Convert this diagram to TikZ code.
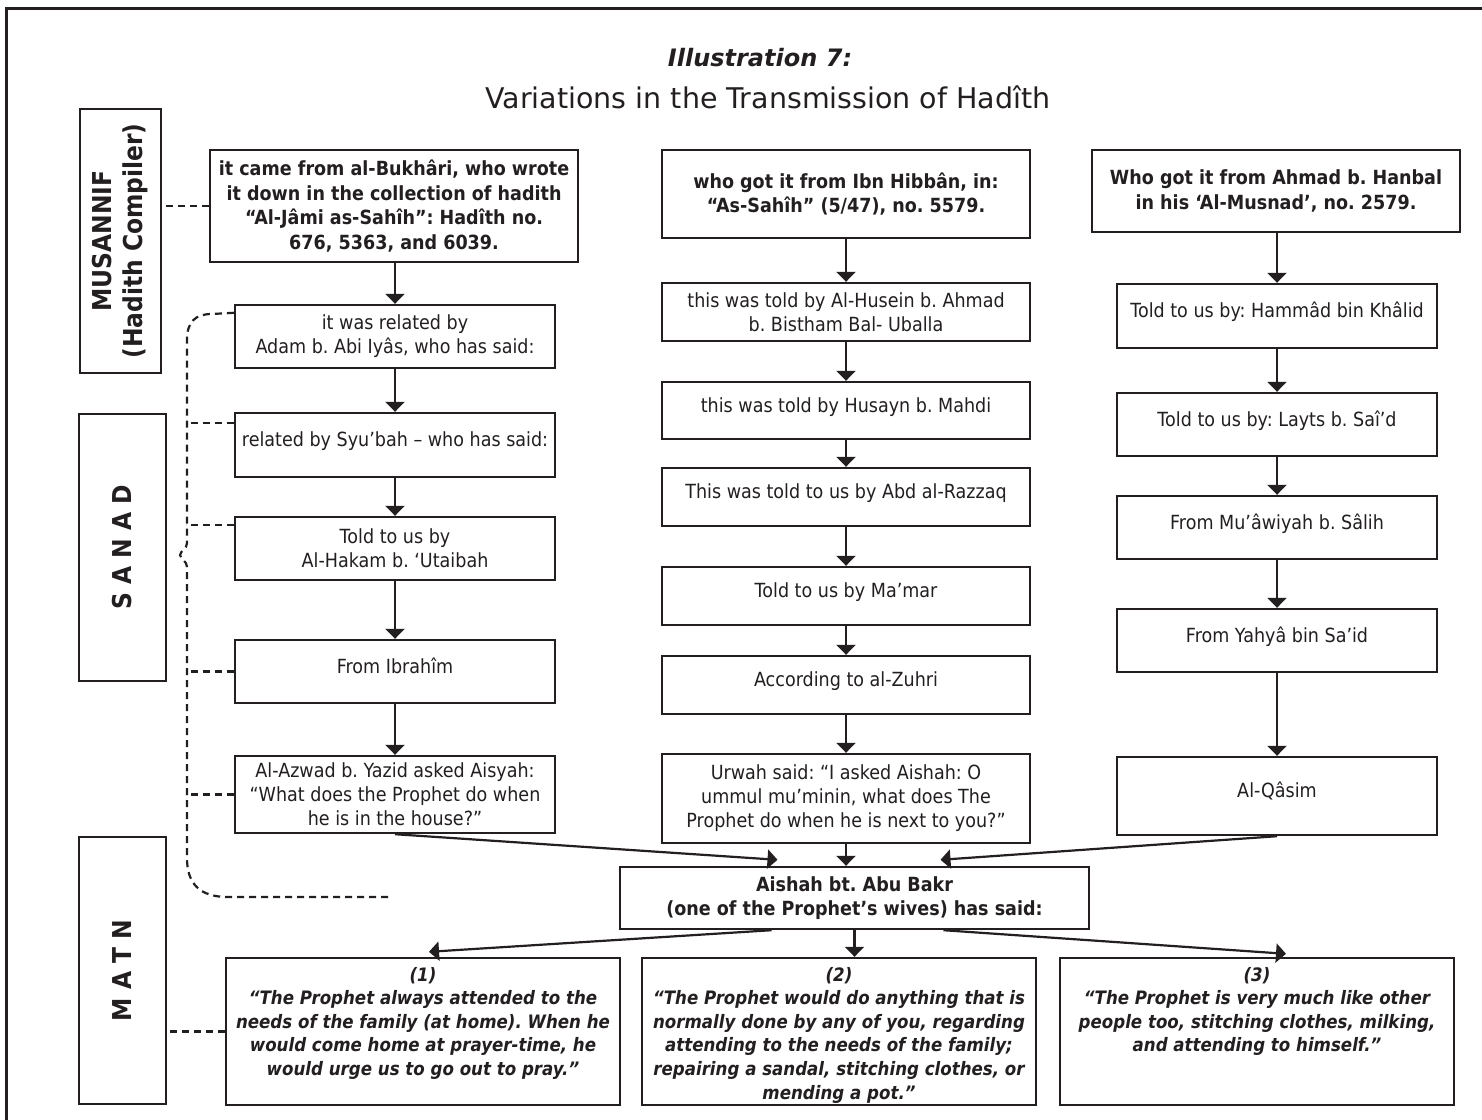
\documentclass[tikz,border=0pt]{standalone}
\usepackage{fontspec}
\setmainfont{DejaVu Sans}[FakeStretch=0.9]
\newfontfamily\titlefont{DejaVu Sans}
\usetikzlibrary{arrows.meta,calc}
\definecolor{ink}{HTML}{231F20}
\frenchspacing

% box with corners (x1,y1)-(x2,y2), picture coordinates grow downwards
\newcommand\bx[7]{%
  \node[box,#6,minimum width={#4-#2},minimum height={#5-#3}]
       (#1) at ({(#2+#4)/2},{(#3+#5)/2}) {#7};}

\tikzset{
  box/.style={draw=ink,line width=2.4pt,fill=white,align=center,inner sep=0pt,
              text=ink,font=\fontsize{19.5}{24}\selectfont},
  oneline/.style={text height=15pt,text depth=12pt},
  bold/.style={font=\fontsize{19.5}{24.5}\selectfont\bfseries},
  quote/.style={font=\fontsize{18.5}{23.6}\selectfont\bfseries\itshape},
  sidelbl/.style={font=\fontsize{26}{31}\selectfont\bfseries},
  arr/.style={draw=ink,line width=2.2pt,-{Triangle[width=19pt,length=10pt]}},
  dsh/.style={draw=ink,line width=2.2pt,dash pattern=on 7pt off 5pt},
}

\begin{document}
\begin{tikzpicture}[x=1pt,y=-1pt]
\useasboundingbox (0,0) rectangle (1482,1119);
% outer frame
\draw[ink,line width=3pt] (1500,8) -- (6,8) -- (6,1140);

% titles
\node[text=ink,font=\titlefont\fontsize{24}{27}\selectfont\bfseries\itshape] (ttl1) at (760,58) {Illustration 7:};
\node[text=ink,font=\titlefont\fontsize{28.5}{32}\selectfont] (ttl2) at (768,97) {Variations in the Transmission of Hadîth};

% side labels
\bx{mus}{80}{109}{161}{373}{sidelbl}{\rotatebox{90}{\begin{tabular}{@{}c@{}}MUSANNIF\\(Hadith Compiler)\end{tabular}}}
\bx{san}{79}{414}{166}{681}{sidelbl}{\rotatebox{90}{S A N A D}}
\bx{mat}{79}{837}{166}{1104}{sidelbl}{\rotatebox{90}{M A T N}}

% left chain
\bx{buk}{210}{150}{578}{262}{bold}{it came from al-Bukhâri, who wrote\\ it down in the collection of hadith\\ “Al-Jâmi as-Sahîh”: Hadîth no.\\ 676, 5363, and 6039.}
\bx{adam}{235}{305}{555}{368}{}{it was related by\\ Adam b. Abi Iyâs, who has said:}
\bx{syu}{235}{413}{555}{477}{oneline}{related by Syu’bah – who has said:}
\bx{hak}{235}{517}{555}{580}{}{Told to us by\\ Al-Hakam b. ‘Utaibah}
\bx{ibr}{235}{640}{555}{703}{oneline}{From Ibrahîm}
\bx{azw}{235}{756}{555}{833}{}{Al-Azwad b. Yazid asked Aisyah:\\ “What does the Prophet do when\\ he is in the house?”}

% middle chain
\bx{hib}{662}{150}{1030}{238}{bold}{who got it from Ibn Hibbân, in:\\ “As-Sahîh” (5/47), no. 5579.}
\bx{hus1}{662}{283}{1030}{341}{}{this was told by Al-Husein b. Ahmad\\ b. Bistham Bal- Uballa}
\bx{hus2}{662}{382}{1030}{439}{oneline}{this was told by Husayn b. Mahdi}
\bx{raz}{662}{468}{1030}{526}{oneline}{This was told to us by Abd al-Razzaq}
\bx{mam}{662}{567}{1030}{625}{oneline}{Told to us by Ma’mar}
\bx{zuh}{662}{656}{1030}{714}{oneline}{According to al-Zuhri}
\bx{urw}{662}{754}{1030}{843}{}{Urwah said: “I asked Aishah: O\\ ummul mu’minin, what does The\\ Prophet do when he is next to you?”}

% right chain
\bx{han}{1092}{150}{1460}{232}{bold}{Who got it from Ahmad b. Hanbal\\ in his ‘Al-Musnad’, no. 2579.}
\bx{ham}{1117}{284}{1437}{348}{oneline}{Told to us by: Hammâd bin Khâlid}
\bx{lay}{1117}{393}{1437}{456}{oneline}{Told to us by: Layts b. Saî’d}
\bx{muw}{1117}{496}{1437}{559}{oneline}{From Mu’âwiyah b. Sâlih}
\bx{yah}{1117}{609}{1437}{672}{oneline}{From Yahyâ bin Sa’id}
\bx{qas}{1117}{757}{1437}{835}{oneline}{Al-Qâsim}

% the shared narrator
\bx{ai}{620}{867}{1089}{929}{bold}{Aishah bt. Abu Bakr\\ (one of the Prophet’s wives) has said:}

% the three wordings
\bx{qa}{226}{958}{620}{1105}{quote}{\parbox[c][141pt][t]{388pt}{\centering\vspace*{6pt}(1)\\ “The Prophet always attended to the\\ needs of the family (at home). When he\\ would come home at prayer-time, he\\ would urge us to go out to pray.”}}
\bx{qb}{642}{958}{1036}{1105}{quote}{\parbox[c][141pt][t]{388pt}{\centering\vspace*{6pt}(2)\\ “The Prophet would do anything that is\\ normally done by any of you, regarding\\ attending to the needs of the family;\\ repairing a sandal, stitching clothes, or\\ mending a pot.”}}
\bx{qc}{1060}{958}{1454}{1105}{quote}{\parbox[c][141pt][t]{388pt}{\centering\vspace*{6pt}(3)\\ “The Prophet is very much like other\\ people too, stitching clothes, milking,\\ and attending to himself.”}}

% chains of transmission
\foreach \a/\b in {buk/adam,adam/syu,syu/hak,hak/ibr,ibr/azw,
                   hib/hus1,hus1/hus2,hus2/raz,raz/mam,mam/zuh,zuh/urw,
                   han/ham,ham/lay,lay/muw,muw/yah,yah/qas}
  \draw[arr] (\a.south -| \b.north) -- (\b.north);

% converging on Aishah
\coordinate (aiL) at ($(ai.north)+(-77,-6)$);
\coordinate (aiR) at ($(ai.north)+(86,-6)$);
\draw[arr] (azw.south) -- (aiL);
\draw[arr] (urw.south) -- (urw.south |- ai.north);
\draw[arr] (qas.south) -- (aiR);

% diverging to the three wordings
\draw[arr] ($(ai.south)+(-83,0)$) -- ($(qa.north)+(6,-5)$);
\draw[arr] (ai.south) -- (ai.south |- qb.north);
\draw[arr] ($(ai.south)+(89,0)$) -- ($(qc.north)+(29,-3)$);

% dashed links to the side labels
\draw[dsh] (buk.west) -- (buk.west -| mus.east);
\draw[dsh] (qa.west) -- (qa.west -| mat.east);
\coordinate (sanadEnd) at (389,897);
\draw[dsh] ($(adam.north west)+(0,9)$) -- (212,314)
  .. controls (195,314) and (187,322) .. (187,340) -- (187,543)
  .. controls (187,549) and (181,550) .. (180,555)
  .. controls (181,560) and (187,561) .. (187,567) -- (187,858)
  .. controls (187,884) and (200,897) .. (228,897) -- (sanadEnd);
\draw[dsh] ($(syu.north west)+(0,11)$) -- ++(-48,0);
\draw[dsh] ($(hak.north west)+(0,9)$) -- ++(-48,0);
\draw[dsh] (ibr.west) -- ++(-48,0);
\draw[dsh] (azw.west) -- ++(-48,0);
\end{tikzpicture}
\end{document}
